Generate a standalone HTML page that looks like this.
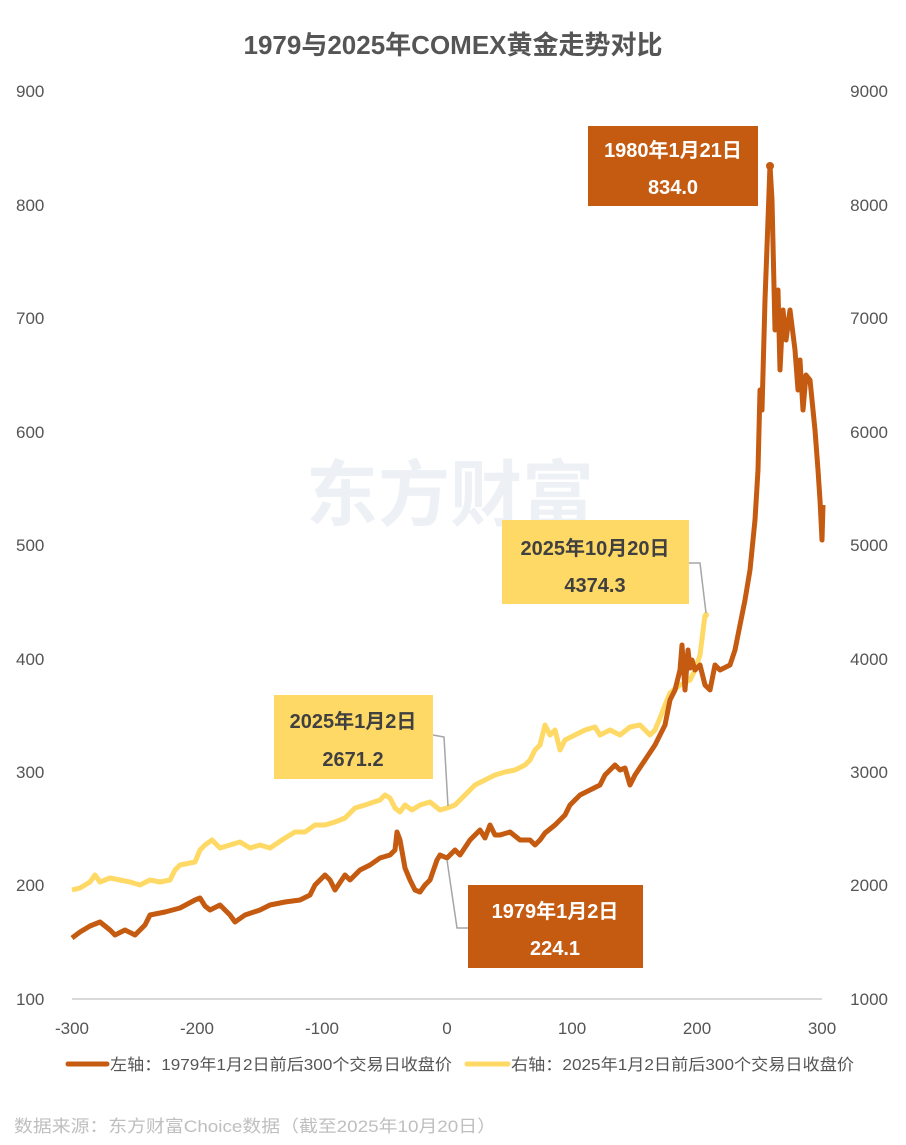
<!DOCTYPE html>
<html><head><meta charset="utf-8"><style>
body{margin:0;background:#fff;}
svg text{font-family:"Liberation Sans","Noto Sans CJK SC",sans-serif;}
</style></head><body>
<svg width="906" height="1140" xmlns="http://www.w3.org/2000/svg">
<rect width="906" height="1140" fill="#fff"/>
<text x="453" y="54" text-anchor="middle" font-size="26" font-weight="bold" fill="#555">1979与2025年COMEX黄金走势对比</text>
<text x="450" y="520" text-anchor="middle" font-size="72" font-weight="bold" fill="#e9eef3" opacity="0.8">东方财富</text>
<g font-size="17" fill="#555">
<text x="16" y="97">900</text><text x="16" y="211">800</text><text x="16" y="324">700</text><text x="16" y="438">600</text><text x="16" y="551">500</text><text x="16" y="665">400</text><text x="16" y="778">300</text><text x="16" y="891">200</text><text x="16" y="1005">100</text>
<g text-anchor="end"><text x="888" y="97">9000</text><text x="888" y="211">8000</text><text x="888" y="324">7000</text><text x="888" y="438">6000</text><text x="888" y="551">5000</text><text x="888" y="665">4000</text><text x="888" y="778">3000</text><text x="888" y="891">2000</text><text x="888" y="1005">1000</text></g>
<g text-anchor="middle"><text x="72" y="1034">-300</text><text x="197" y="1034">-200</text><text x="322" y="1034">-100</text><text x="447" y="1034">0</text><text x="572" y="1034">100</text><text x="697" y="1034">200</text><text x="822" y="1034">300</text></g>
</g>
<line x1="72" y1="999" x2="822" y2="999" stroke="#d9d9d9" stroke-width="2"/>
<polyline fill="none" stroke="#ffd966" stroke-width="5" stroke-linejoin="round" points="72,890 80,888 90,882 95,875 100,882 110,878 120,880 130,882 140,885 150,880 160,882 170,880 175,870 180,865 195,862 200,850 205,845 212,840 220,848 230,845 240,842 250,848 260,845 270,848 285,838 295,832 305,832 315,825 325,825 335,822 345,818 355,808 365,805 380,800 385,795 390,798 395,808 400,812 405,805 412,810 420,805 430,802 440,810 447,808 455,805 465,795 475,785 485,780 495,775 505,772 515,770 525,765 530,760 535,750 540,745 545,725 550,735 555,730 560,750 565,740 575,735 585,730 595,727 600,735 610,730 620,735 630,727 640,725 650,735 655,730 660,718 665,705 670,693 680,685 690,680 695,670 700,655 705,615"/>
<polyline fill="none" stroke="#c55a11" stroke-width="5" stroke-linejoin="round" points="72,938 80,932 90,926 100,922 110,930 115,935 125,930 135,935 145,925 150,915 165,912 180,908 195,900 200,898 205,906 210,910 220,905 230,915 235,922 245,915 260,910 270,905 285,902 300,900 310,895 315,885 325,875 330,880 335,890 345,875 350,880 360,870 370,865 380,858 390,855 395,850 397,832 400,840 405,868 410,880 415,890 420,892 425,885 430,880 437,860 440,855 447,858 455,850 460,855 470,840 480,830 485,838 490,825 495,835 500,835 510,832 520,840 530,840 535,845 540,840 545,833 555,825 565,815 570,805 580,795 590,790 600,785 605,775 615,765 620,770 625,768 630,785 635,775 645,760 655,745 665,725 670,700 675,690 680,670 682,645 685,690 688,650 690,668 692,660 695,670 700,665 705,685 710,690 715,665 720,670 730,665 735,650 740,625 745,600 750,570 755,520 758,470 760,390 762,410 765,300 768,220 770,165 772,200 775,330 778,290 780,370 783,310 786,340 790,310 795,350 798,390 800,360 803,410 806,375 810,380 815,430 818,470 820,500 822,540 823,505"/>
<circle cx="770" cy="166" r="4" fill="#c55a11"/>
<circle cx="706" cy="615" r="3" fill="#ffd966"/>
<g fill="none" stroke="#a6a6a6" stroke-width="1.5">
<polyline points="689,563 700,563 706,613"/>
<polyline points="433,735 444,737 448,806"/>
<polyline points="447,860 457,928 468,928"/>
</g>
<rect x="588" y="126" width="170" height="80" fill="#c55a11"/>
<text x="673" y="157" text-anchor="middle" font-size="20" font-weight="bold" fill="#fff">1980年1月21日</text>
<text x="673" y="194" text-anchor="middle" font-size="20" font-weight="bold" fill="#fff">834.0</text>
<rect x="502" y="520" width="187" height="84" fill="#ffd966"/>
<text x="595" y="555" text-anchor="middle" font-size="20" font-weight="bold" fill="#404040">2025年10月20日</text>
<text x="595" y="592" text-anchor="middle" font-size="20" font-weight="bold" fill="#404040">4374.3</text>
<rect x="274" y="695" width="159" height="84" fill="#ffd966"/>
<text x="353" y="728" text-anchor="middle" font-size="20" font-weight="bold" fill="#404040">2025年1月2日</text>
<text x="353" y="766" text-anchor="middle" font-size="20" font-weight="bold" fill="#404040">2671.2</text>
<rect x="468" y="885" width="175" height="83" fill="#c55a11"/>
<text x="555" y="918" text-anchor="middle" font-size="20" font-weight="bold" fill="#fff">1979年1月2日</text>
<text x="555" y="955" text-anchor="middle" font-size="20" font-weight="bold" fill="#fff">224.1</text>
<line x1="68" y1="1064" x2="107" y2="1064" stroke="#c55a11" stroke-width="5" stroke-linecap="round"/>
<text x="110" y="1070" font-size="16" fill="#555" textLength="342" lengthAdjust="spacingAndGlyphs">左轴：1979年1月2日前后300个交易日收盘价</text>
<line x1="467" y1="1064" x2="508" y2="1064" stroke="#ffd966" stroke-width="5" stroke-linecap="round"/>
<text x="511" y="1070" font-size="16" fill="#555" textLength="343" lengthAdjust="spacingAndGlyphs">右轴：2025年1月2日前后300个交易日收盘价</text>
<text x="14" y="1132" font-size="17" fill="#bfbfbf" textLength="482" lengthAdjust="spacingAndGlyphs">数据来源：东方财富Choice数据（截至2025年10月20日）</text>
</svg>
</body></html>
